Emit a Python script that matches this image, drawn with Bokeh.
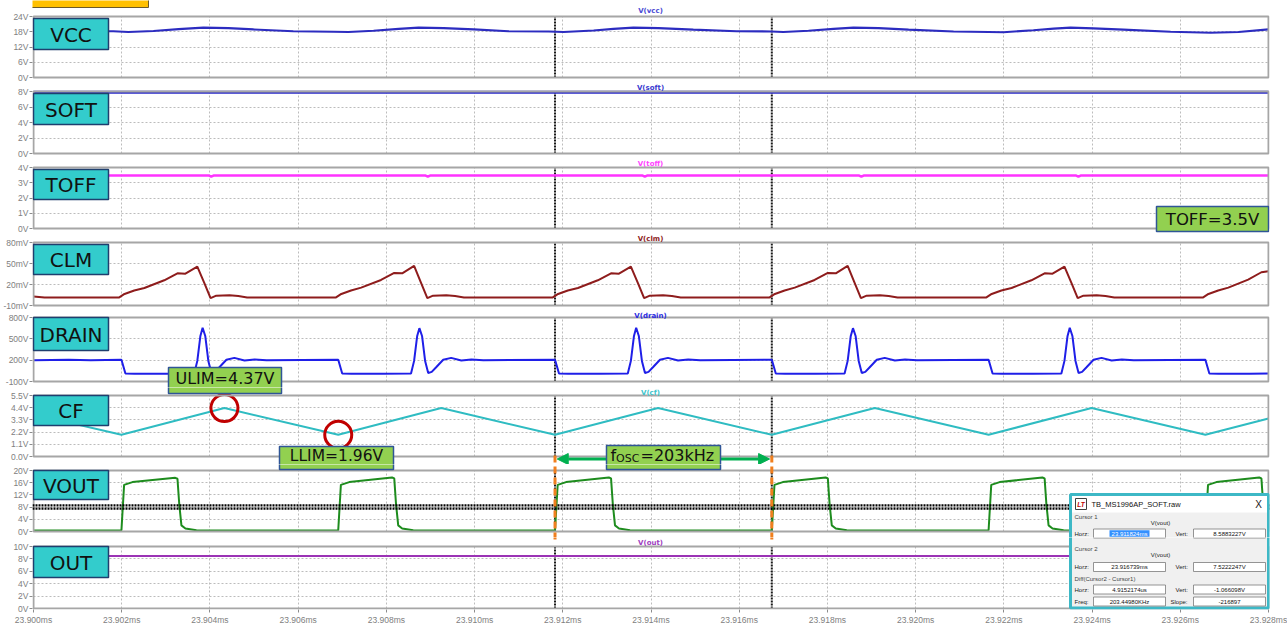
from bokeh.plotting import figure
from bokeh.layouts import column
from bokeh.models import Range1d, FixedTicker, Span, Label, BoxAnnotation, Arrow, NormalHead
from bokeh.embed import file_html
from bokeh.resources import INLINE

# ------------------------------------------------------------------ data
# time axis in microseconds after 23.900 ms
x_ticks = [0, 2, 4, 6, 8, 10, 12, 14, 16, 18, 20, 22, 24, 26, 28]
x_tick_labels = ["23.900ms", "23.902ms", "23.904ms", "23.906ms", "23.908ms", "23.910ms",
                 "23.912ms", "23.914ms", "23.916ms", "23.918ms", "23.920ms", "23.922ms",
                 "23.924ms", "23.926ms", "23.928ms"]

cursor_t = [11.824, 16.739]          # cursor 1 / cursor 2 (23.911824ms, 23.916739ms)
cursor_v = [8.5883227, 7.5222247]    # V(vout) at cursor 1 / cursor 2

vcc_ticks = [0, 6, 12, 18, 24]
vcc_labels = ["0V", "6V", "12V", "18V", "24V"]
soft_ticks = [0, 2, 4, 6, 8]
soft_labels = ["0V", "2V", "4V", "6V", "8V"]
toff_ticks = [0, 1, 2, 3, 4]
toff_labels = ["0V", "1V", "2V", "3V", "4V"]
clm_ticks = [-10, 20, 50, 80]
clm_labels = ["-10mV", "20mV", "50mV", "80mV"]
drain_ticks = [-100, 200, 500, 800]
drain_labels = ["-100V", "200V", "500V", "800V"]
cf_ticks = [0.0, 1.1, 2.2, 3.3, 4.4, 5.5]
cf_labels = ["0.0V", "1.1V", "2.2V", "3.3V", "4.4V", "5.5V"]
vout_ticks = [0, 4, 8, 12, 16, 20]
vout_labels = ["0V", "4V", "8V", "12V", "16V", "20V"]
out_ticks = [0, 2, 4, 6, 8, 10]
out_labels = ["0V", "2V", "4V", "6V", "8V", "10V"]

vcc_t = [0.00, 1.81, 2.15, 2.72, 3.29, 3.85, 4.42, 4.99, 5.89, 6.80, 7.14, 7.71, 8.28, 8.73,
         9.30, 9.98, 10.77, 11.68, 12.02, 12.70, 13.15, 13.60, 14.17, 14.96, 15.94, 16.73,
         17.00, 17.57, 18.14, 18.59, 19.16, 19.84, 20.86, 21.65, 21.99, 22.67, 23.13, 23.51,
         24.03, 24.71, 25.78, 26.69, 27.32, 28.00]
vcc_v = [18.2, 18.2, 17.9, 18.3, 19.0, 19.6, 19.4, 18.9, 18.2, 18.0, 17.9, 18.4, 19.1, 19.6,
         19.4, 18.9, 18.2, 18.1, 17.9, 18.5, 19.1, 19.6, 19.4, 18.8, 18.2, 18.1,
         17.9, 18.4, 19.1, 19.6, 19.4, 18.8, 18.1, 17.9, 17.8, 18.6, 19.2, 19.6,
         19.3, 18.8, 18.0, 17.6, 17.9, 18.9]

soft_t = [0.0, 28.0]
soft_v = [7.9, 7.9]

toff_t = [0.0, 3.98, 4.03, 4.08, 8.89, 8.94, 8.99, 13.81, 13.86, 13.91,
          18.72, 18.77, 18.82, 23.64, 23.69, 23.74, 28.0]
toff_v = [3.47, 3.47, 3.40, 3.47, 3.47, 3.40, 3.47, 3.47, 3.40, 3.47,
          3.47, 3.40, 3.47, 3.47, 3.40, 3.47, 3.47]

clm_t = [0.0, 0.25,
         1.944, 2.064, 2.284, 2.514, 2.964, 3.264, 3.444, 3.714, 3.874, 4.014, 4.144, 4.444, 4.644, 4.844,
         6.859, 6.979, 7.199, 7.429, 7.879, 8.179, 8.359, 8.629, 8.789, 8.929, 9.059, 9.359, 9.559, 9.759,
         11.774, 11.894, 12.114, 12.344, 12.794, 13.094, 13.274, 13.544, 13.704, 13.844, 13.974, 14.274, 14.474, 14.674,
         16.689, 16.809, 17.029, 17.259, 17.709, 18.009, 18.189, 18.459, 18.619, 18.759, 18.889, 19.189, 19.389, 19.589,
         21.604, 21.724, 21.944, 22.174, 22.624, 22.924, 23.104, 23.374, 23.534, 23.674, 23.804, 24.104, 24.304, 24.504,
         26.519, 26.639, 26.859, 27.089, 27.539, 27.839, 28.0]
clm_v = [3.0, 1.5,
         1.5, 6.5, 11.5, 15.0, 26.0, 36.0, 35.5, 45.5, 22.0, 0.5, 4.0, 4.5, 3.5, 1.5,
         1.5, 6.5, 11.5, 15.5, 26.5, 36.5, 36.0, 46.5, 22.0, 0.5, 4.0, 4.5, 3.5, 1.5,
         1.5, 6.5, 11.5, 15.0, 26.0, 36.0, 35.5, 45.5, 22.0, 0.5, 4.0, 4.5, 3.5, 1.5,
         1.5, 6.5, 11.5, 15.5, 26.5, 36.5, 36.0, 46.5, 22.0, 0.5, 4.0, 4.5, 3.5, 1.5,
         1.5, 6.5, 11.5, 15.0, 26.0, 36.0, 35.5, 45.5, 22.0, 0.5, 4.0, 4.5, 3.5, 1.5,
         1.5, 6.5, 11.5, 15.5, 27.0, 37.5, 39.0]

drain_t = [0.0, 0.8, 1.3,
           1.994, 2.084, 2.294, 2.994, 3.644, 3.714, 3.784, 3.834, 3.894, 3.964, 4.034, 4.114, 4.214, 4.374, 4.554, 4.784, 5.014, 5.284,
           6.909, 6.999, 7.209, 7.909, 8.559, 8.629, 8.699, 8.749, 8.809, 8.879, 8.949, 9.029, 9.129, 9.289, 9.469, 9.699, 9.929, 10.199,
           11.824, 11.914, 12.124, 12.824, 13.474, 13.544, 13.614, 13.664, 13.724, 13.794, 13.864, 13.944, 14.044, 14.204, 14.384, 14.614, 14.844, 15.114,
           16.739, 16.829, 17.039, 17.739, 18.389, 18.459, 18.529, 18.579, 18.639, 18.709, 18.779, 18.859, 18.959, 19.119, 19.299, 19.529, 19.759, 20.029,
           21.654, 21.744, 21.954, 22.654, 23.304, 23.374, 23.444, 23.494, 23.554, 23.624, 23.694, 23.774, 23.874, 24.034, 24.214, 24.444, 24.674, 24.944,
           26.569, 26.659, 26.869, 27.569, 28.0]
drain_v = [200, 205, 200,
           205, 12, 8, 10, 12, 190, 540, 655, 540, 190, 20, 35, 100, 205, 232, 195, 210, 200,
           205, 12, 8, 10, 12, 190, 540, 650, 540, 190, 20, 35, 100, 205, 232, 195, 210, 200,
           205, 12, 8, 10, 12, 190, 540, 655, 540, 190, 20, 35, 100, 205, 232, 195, 210, 200,
           205, 12, 8, 10, 12, 190, 540, 650, 540, 190, 20, 35, 100, 205, 232, 195, 210, 200,
           205, 12, 8, 10, 12, 190, 540, 655, 540, 190, 20, 35, 100, 205, 232, 195, 210, 200,
           205, 12, 8, 10, 11]

cf_t = [0.0, 1.994, 4.329, 6.909, 9.244, 11.824, 14.159, 16.739, 19.074, 21.654, 23.989, 26.569, 28.0]
cf_v = [3.80, 1.96, 4.37, 1.96, 4.37, 1.96, 4.37, 1.96, 4.37, 1.96, 4.37, 1.96, 3.43]

limit_t = [4.329, 6.909]     # ULIM / LLIM marked points
limit_v = [4.37, 1.96]

vout_t = [0.0,
          1.964, 1.994, 2.054, 2.244, 3.214, 3.264, 3.304, 3.354, 3.444, 3.694,
          6.879, 6.909, 6.969, 7.159, 8.129, 8.179, 8.219, 8.269, 8.359, 8.609,
          11.794, 11.824, 11.884, 12.074, 13.044, 13.094, 13.134, 13.184, 13.274, 13.524,
          16.709, 16.739, 16.799, 16.989, 17.959, 18.009, 18.049, 18.099, 18.189, 18.439,
          21.624, 21.654, 21.714, 21.904, 22.874, 22.924, 22.964, 23.014, 23.104, 23.354,
          26.539, 26.569, 26.629, 26.819, 27.789, 27.839, 27.879, 27.929, 28.0]
vout_v = [0.35,
          0.3, 0.4, 15.3, 16.2, 17.6, 17.3, 9.0, 2.0, 1.0, 0.4,
          0.3, 0.4, 15.3, 16.2, 17.7, 17.4, 9.0, 2.0, 1.0, 0.4,
          0.3, 0.4, 15.3, 16.2, 17.7, 17.4, 9.0, 2.0, 1.0, 0.4,
          0.3, 0.4, 15.3, 16.2, 17.7, 17.4, 9.0, 2.0, 1.0, 0.4,
          0.3, 0.4, 15.3, 16.2, 17.7, 17.4, 9.0, 2.0, 1.0, 0.4,
          0.3, 0.4, 15.3, 16.2, 17.7, 17.4, 9.0, 2.0, 1.2]

out_t = [0.0, 28.0]
out_v = [8.45, 8.45]

panels = [
    dict(name="VCC", title="V(vcc)", t=vcc_t, v=vcc_v, ticks=vcc_ticks, labels=vcc_labels, color="#2c2cc0", tcolor="#4a4ad4", lw=2.2),
    dict(name="SOFT", title="V(soft)", t=soft_t, v=soft_v, ticks=soft_ticks, labels=soft_labels, color="#2626c8", tcolor="#3a3ad0", lw=3.0),
    dict(name="TOFF", title="V(toff)", t=toff_t, v=toff_v, ticks=toff_ticks, labels=toff_labels, color="#ff33ff", tcolor="#ff44ff", lw=2.5),
    dict(name="CLM", title="V(clm)", t=clm_t, v=clm_v, ticks=clm_ticks, labels=clm_labels, color="#8e1c1c", tcolor="#8e1c1c", lw=2.0),
    dict(name="DRAIN", title="V(drain)", t=drain_t, v=drain_v, ticks=drain_ticks, labels=drain_labels, color="#1f1fe8", tcolor="#2a2ae0", lw=2.0),
    dict(name="CF", title="V(cf)", t=cf_t, v=cf_v, ticks=cf_ticks, labels=cf_labels, color="#2fbcc2", tcolor="#3cc4cc", lw=2.0),
    dict(name="VOUT", title="V(vout)", t=vout_t, v=vout_v, ticks=vout_ticks, labels=vout_labels, color="#1e8c1e", tcolor="#1e8c1e", lw=2.0),
    dict(name="OUT", title="V(out)", t=out_t, v=out_v, ticks=out_ticks, labels=out_labels, color="#9b33b5", tcolor="#a040c0", lw=2.0),
]

# ------------------------------------------------------------------ layout (pixels)
F = [0, 82, 158, 233, 310, 387, 464, 537, 609]          # figure (frame) boundaries
panel_top = [16, 91, 167, 242, 317, 395, 470, 546]
panel_bot = [77, 153, 228, 305, 381, 456, 531, 608]
name_box = [(2, 33), (2, 33), (2, 32), (2, 32), (0, 33), (0, 30), (0, 29), (0, 31)]
title_y = [10.5, 87, 163, 238, 315, 392, None, 542]
BORDER_L, BORDER_R, FRAME_W = 30, 20, 1237
PX = 28 / 1235


def xd(px):
    return (px - 30) / 1235 * 28


def yd(i, px):
    lo, hi = panels[i]["ticks"][0], panels[i]["ticks"][-1]
    return lo + (panel_bot[i] - px) / (panel_bot[i] - panel_top[i]) * (hi - lo)


x_range = Range1d(-PX, 28 + PX)
figs = []
for i, pn in enumerate(panels):
    last = i == len(panels) - 1
    lo, hi = pn["ticks"][0], pn["ticks"][-1]
    p = figure(frame_width=FRAME_W, frame_height=F[i + 1] - F[i], x_range=x_range,
               y_range=Range1d(yd(i, F[i + 1]), yd(i, F[i])),
               min_border_left=BORDER_L, min_border_right=BORDER_R,
               min_border_top=0, min_border_bottom=16 if last else 0,
               x_axis_location="below" if last else None, title=None,
               toolbar_location=None, output_backend="svg")
    p.background_fill_color = "white"
    p.border_fill_color = "white"
    p.outline_line_color = None
    for g in p.xgrid:
        g.ticker = FixedTicker(ticks=x_ticks)
        g.cross_bounds = (lo, hi)
    for g in p.ygrid:
        g.ticker = FixedTicker(ticks=pn["ticks"])
        g.cross_bounds = (0, 28)
    for g in p.grid:
        g.grid_line_color = "#bcbcbc"
        g.grid_line_dash = "2 2"
        g.grid_line_width = 1
    ya = p.yaxis[0]
    ya.bounds = (lo, hi)
    ya.ticker = FixedTicker(ticks=pn["ticks"])
    ya.major_label_overrides = dict(zip(pn["ticks"], pn["labels"]))
    ya.major_label_text_font = "Liberation Sans"
    ya.major_label_text_font_size = "8.5px"
    ya.major_label_text_color = "#808080"
    ya.major_label_standoff = 1
    ya.major_tick_out = 3
    ya.major_tick_in = 0
    ya.minor_tick_out = 0
    ya.minor_tick_in = 0
    ya.axis_line_color = None
    ya.major_tick_line_color = "#8c8c8c"
    if last:
        xa = p.xaxis[0]
        xa.ticker = FixedTicker(ticks=x_ticks)
        xa.major_label_overrides = dict(zip(x_ticks, x_tick_labels))
        xa.major_label_text_font = "Liberation Sans"
        xa.major_label_text_font_size = "8.5px"
        xa.major_label_text_color = "#808080"
        xa.major_label_standoff = 2
        xa.major_tick_out = 3
        xa.major_tick_in = 0
        xa.minor_tick_out = 0
        xa.minor_tick_in = 0
        xa.axis_line_color = None
        xa.major_tick_line_color = "#8c8c8c"

    # cursor verticals inside the panel
    p.segment(x0=cursor_t, y0=[lo] * len(cursor_t), x1=cursor_t, y1=[hi] * len(cursor_t),
              line_color="#1a1a1a", line_dash="2 1", line_width=2)
    p.line(pn["t"], pn["v"], line_color=pn["color"], line_width=pn["lw"])
    # panel frame
    p.add_layout(BoxAnnotation(left=0, right=28, bottom=lo, top=hi, fill_alpha=0,
                               line_color="#a6a6a6", line_alpha=1.0, line_width=2))
    figs.append(p)


def fig_of(y):
    return max(k for k in range(len(figs)) if F[k] <= y)


def box(x0, x1, y0, y1, fill, line=None, lw=1.0):
    for k in range(len(figs)):
        if y1 > F[k] and y0 < F[k + 1]:
            figs[k].add_layout(BoxAnnotation(left=xd(x0), right=xd(x1), top=yd(k, y0), bottom=yd(k, y1),
                                             fill_color=fill, fill_alpha=1.0, line_color=line,
                                             line_alpha=1.0, line_width=lw))


def vline(x, y0, y1, color, lw, dash):
    for k in range(len(figs)):
        if y1 > F[k] and y0 < F[k + 1]:
            figs[k].add_layout(Arrow(end=None, x_start=x, y_start=yd(k, y0), x_end=x, y_end=yd(k, y1),
                                     line_color=color, line_width=lw, line_dash=dash))


def txt(x, y, s, size, color="#111111", align="center", font="DejaVu Sans", style="normal"):
    k = fig_of(y)
    figs[k].add_layout(Label(x=xd(x), y=yd(k, y), text=s, text_font_size=f"{size}px", text_color=color,
                             text_align=align, text_baseline="middle", text_font=font,
                             text_font_style=style))


# cursor horizontal lines in V(vout)
for cv in cursor_v:
    figs[6].add_layout(Span(location=cv, dimension="width", line_color="#000000",
                            line_dash="2 1", line_width=2.2))

# red circles on the CF limits
figs[5].scatter(limit_t, limit_v, marker="circle", size=27, fill_alpha=0,
                line_color="#c00000", line_width=3)

# yellow tab at the top-left
box(0, 145, -5, 7, "#ffc000", "#6b5a2a", 1)

# panel titles
for i, pn in enumerate(panels):
    if title_y[i] is not None:
        txt(647, title_y[i], pn["title"], 7, color=pn["tcolor"], style="bold")

# panel name boxes
for i, pn in enumerate(panels):
    t0, t1 = name_box[i]
    y0, y1 = panel_top[i] + t0, panel_top[i] + t1
    box(30, 105, y0, y1, "#33cccc", "#1f3f6e", 1.5)
    txt(67.5, (y0 + y1) / 2 + 0.5, pn["name"], 20)

GREEN_FILL, GREEN_LINE = "#92d050", "#2f5597"
ORANGE = "#f07f1e"
ARROW_GREEN = "#00b050"

# TOFF=3.5V
box(1153, 1265, 206, 231, GREEN_FILL, GREEN_LINE, 1.5)
txt(1209, 219, "TOFF=3.5V", 16.5)
# ULIM
box(165, 278, 367, 393, GREEN_FILL, GREEN_LINE, 1.5)
txt(221.5, 377.5, "ULIM=4.37V", 16)

# orange markers and green double arrow
for ct in cursor_t:
    vline(ct, 455, 541, ORANGE, 3, "7 4")
figs[5].add_layout(Arrow(start=NormalHead(size=11, fill_color=ARROW_GREEN, line_color=ARROW_GREEN),
                         end=NormalHead(size=11, fill_color=ARROW_GREEN, line_color=ARROW_GREEN),
                         x_start=cursor_t[0] + 0.05, y_start=yd(5, 458.5),
                         x_end=cursor_t[1] - 0.05, y_end=yd(5, 458.5),
                         line_color=ARROW_GREEN, line_width=3))
# LLIM
box(276, 390, 446, 469, GREEN_FILL, GREEN_LINE, 1.5)
txt(333, 455, "LLIM=1.96V", 15.5)
# fosc
box(603, 717, 445, 469, GREEN_FILL, GREEN_LINE, 1.5)
txt(607, 455, "f", 16, align="left")
txt(612.5, 457.5, "OSC", 11, align="left")
txt(637, 455, "=203kHz", 16, align="left")

# ------------------------------------------------------------------ cursor dialog
TEAL = "#3db8c6"
FIELD_LINE = "#7a7a7a"
DF = "Liberation Sans"


def field(x0, x1, y, text, hl=False):
    box(x0, x1, y - 4.5, y + 4.5, "#ffffff", FIELD_LINE, 0.8)
    if hl:
        box((x0 + x1) / 2 - 20, (x0 + x1) / 2 + 20, y - 3.2, y + 3.2, "#3390ff", None, 0)
        txt((x0 + x1) / 2, y, text, 6, color="#ffffff", font=DF)
    else:
        txt((x0 + x1) / 2, y, text, 6, color="#111111", font=DF)


def row(y, l1, v1, l2, v2, l2x, hl=False):
    txt(1071, y, l1, 6, color="#222222", align="left", font=DF)
    field(1090, 1162, y, v1, hl)
    txt(l2x, y, l2, 6, color="#222222", align="left", font=DF)
    field(1190, 1262, y, v2)


box(1067, 1265, 494, 607.5, "#f0f0f0", TEAL, 3)
box(1068.5, 1263.5, 495.5, 512, "#ffffff", None, 0)
box(1072, 1083, 498, 509, "#ffffff", "#404040", 1)
txt(1077.5, 503.5, "LT", 6.5, color="#c00000", style="bold italic", font=DF)
txt(1088, 504, "TB_MS1996AP_SOFT.raw", 7.5, color="#111111", align="left", font=DF)
txt(1255, 504, "X", 10, color="#222222", font=DF)
txt(1071, 516.5, "Cursor 1", 6, color="#444444", align="left", font=DF)
txt(1157, 522.5, "V(vout)", 6, color="#222222", font=DF)
row(533, "Horz:", "23.911824ms", "Vert:", "8.5883227V", 1172, hl=True)
txt(1071, 548.5, "Cursor 2", 6, color="#444444", align="left", font=DF)
txt(1157, 554, "V(vout)", 6, color="#222222", font=DF)
row(566.5, "Horz:", "23.916739ms", "Vert:", "7.5222247V", 1172)
txt(1071, 578.5, "Diff(Cursor2 - Cursor1)", 6, color="#444444", align="left", font=DF)
row(589, "Horz:", "4.9152174us", "Vert:", "-1.066098V", 1172)
row(601, "Freq:", "203.44980KHz", "Slope:", "-216897", 1167)

layout = column(*figs, spacing=0)
open("out.html", "w").write(file_html(layout, INLINE))
